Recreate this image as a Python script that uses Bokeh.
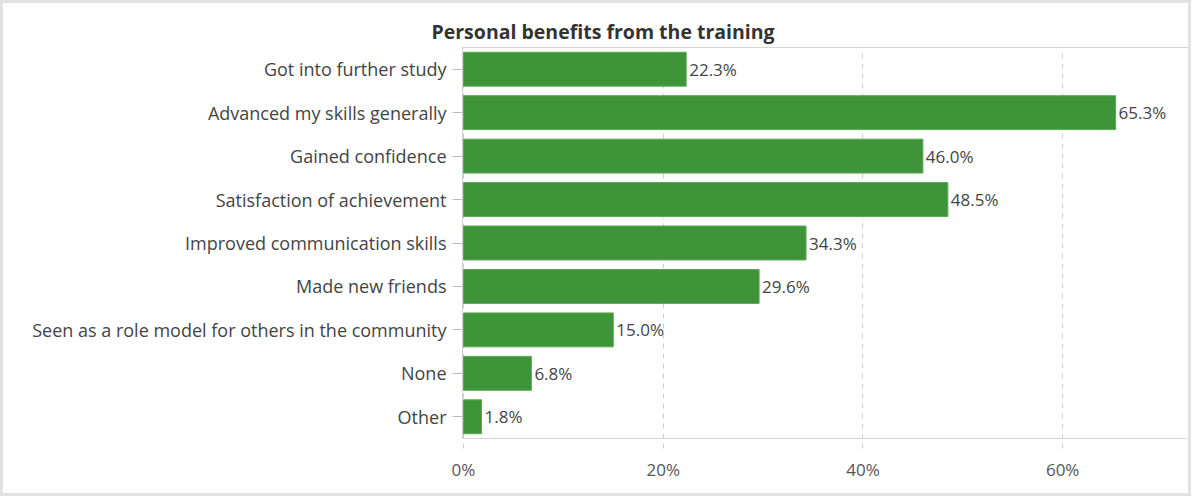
from bokeh.plotting import figure
from bokeh.models import FactorRange, Range1d, ColumnDataSource, LabelSet, FixedTicker, PrintfTickFormatter
from bokeh.core.properties import value
from bokeh.embed import file_html
from bokeh.resources import INLINE

categories = [
    "Got into further study",
    "Advanced my skills generally",
    "Gained confidence",
    "Satisfaction of achievement",
    "Improved communication skills",
    "Made new friends",
    "Seen as a role model for others in the community",
    "None",
    "Other",
]
values = [22.3, 65.3, 46.0, 48.5, 34.3, 29.6, 15.0, 6.8, 1.8]
value_labels = ["22.3%", "65.3%", "46.0%", "48.5%", "34.3%", "29.6%", "15.0%", "6.8%", "1.8%"]
x_ticks = [0, 20, 40, 60]
title_text = "Personal benefits from the training"

FONT = "Open Sans"
BAR = "#3f9339"

src = ColumnDataSource(dict(cat=categories, val=values, lab=value_labels))

p = figure(
    width=1191, height=496,
    y_range=FactorRange(*reversed(categories), range_padding=0),
    x_range=Range1d(-0.1, 72.9),
    output_backend="svg", toolbar_location=None,
    min_border_left=459, min_border_right=3, min_border_top=44, min_border_bottom=61,
    title=title_text,
)
p.styles = {"border": "3px solid #e2e2e2", "box-sizing": "border-box"}

p.hbar(y="cat", right="val", left=0, height=0.78, source=src,
       fill_color=BAR, line_color="#5aa655", line_width=1)

p.add_layout(LabelSet(x="val", y="cat", text="lab", source=src, x_offset=3, y_offset=0,
                      text_baseline="middle", text_font=value(FONT), text_font_size="17px",
                      text_color="#444444"))

p.title.text_font = FONT
p.title.text_font_size = "19.5px"
p.title.text_font_style = "bold"
p.title.text_color = "#333333"
p.title.align = "left"
p.title.offset = -31
p.title.standoff = 5

p.outline_line_color = "#d4d4d4"
p.outline_line_width = 1

p.ygrid.grid_line_color = None
p.xgrid.ticker = FixedTicker(ticks=x_ticks)
p.xgrid.grid_line_color = "#cfcfcf"
p.xgrid.grid_line_dash = "5 5"

xa = p.xaxis[0]
xa.ticker = FixedTicker(ticks=x_ticks)
xa.formatter = PrintfTickFormatter(format="%d%%")
xa.axis_line_color = "#d4d4d4"
xa.major_tick_line_color = "#cfcfcf"
xa.major_tick_line_dash = "5 5"
xa.major_tick_in = 0
xa.major_tick_out = 10
xa.minor_tick_line_color = None
xa.major_label_text_font = FONT
xa.major_label_text_font_size = "17px"
xa.major_label_text_color = "#555555"
xa.major_label_standoff = 9

ya = p.yaxis[0]
ya.axis_line_color = "#cfcfcf"
ya.major_tick_line_color = "#bbbbbb"
ya.major_tick_in = 0
ya.major_tick_out = 10
ya.major_label_text_font = FONT
ya.major_label_text_font_size = "18px"
ya.major_label_text_color = "#444444"
ya.major_label_standoff = 6

open("out.html", "w").write(file_html(p, INLINE))
